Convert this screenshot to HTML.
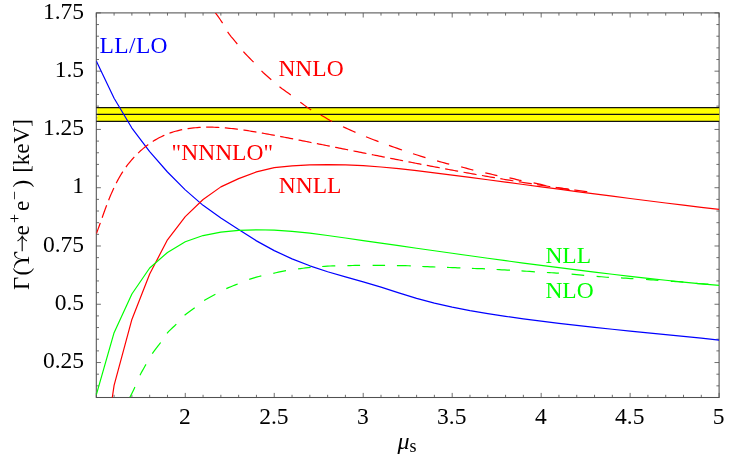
<!DOCTYPE html>
<html><head><meta charset="utf-8"><title>plot</title>
<style>html,body{margin:0;padding:0;background:#fff;width:737px;height:456px;overflow:hidden}
body{font-family:"Liberation Serif",serif}</style></head>
<body>
<svg width="737" height="456" viewBox="0 0 737 456" style="position:absolute;left:0;top:0;will-change:transform">
<rect width="737" height="456" fill="#fff"/>
<defs><clipPath id="c"><rect x="96.30" y="12.90" width="622.80" height="384.60"/></clipPath></defs>
<path d="M96.30 397.50 v-4.60 M96.30 12.90 v4.60 M114.09 397.50 v-2.70 M114.09 12.90 v2.70 M131.89 397.50 v-2.70 M131.89 12.90 v2.70 M149.68 397.50 v-2.70 M149.68 12.90 v2.70 M167.48 397.50 v-2.70 M167.48 12.90 v2.70 M185.27 397.50 v-4.60 M185.27 12.90 v4.60 M203.07 397.50 v-2.70 M203.07 12.90 v2.70 M220.86 397.50 v-2.70 M220.86 12.90 v2.70 M238.65 397.50 v-2.70 M238.65 12.90 v2.70 M256.45 397.50 v-2.70 M256.45 12.90 v2.70 M274.24 397.50 v-4.60 M274.24 12.90 v4.60 M292.04 397.50 v-2.70 M292.04 12.90 v2.70 M309.83 397.50 v-2.70 M309.83 12.90 v2.70 M327.63 397.50 v-2.70 M327.63 12.90 v2.70 M345.42 397.50 v-2.70 M345.42 12.90 v2.70 M363.21 397.50 v-4.60 M363.21 12.90 v4.60 M381.01 397.50 v-2.70 M381.01 12.90 v2.70 M398.80 397.50 v-2.70 M398.80 12.90 v2.70 M416.60 397.50 v-2.70 M416.60 12.90 v2.70 M434.39 397.50 v-2.70 M434.39 12.90 v2.70 M452.19 397.50 v-4.60 M452.19 12.90 v4.60 M469.98 397.50 v-2.70 M469.98 12.90 v2.70 M487.77 397.50 v-2.70 M487.77 12.90 v2.70 M505.57 397.50 v-2.70 M505.57 12.90 v2.70 M523.36 397.50 v-2.70 M523.36 12.90 v2.70 M541.16 397.50 v-4.60 M541.16 12.90 v4.60 M558.95 397.50 v-2.70 M558.95 12.90 v2.70 M576.75 397.50 v-2.70 M576.75 12.90 v2.70 M594.54 397.50 v-2.70 M594.54 12.90 v2.70 M612.33 397.50 v-2.70 M612.33 12.90 v2.70 M630.13 397.50 v-4.60 M630.13 12.90 v4.60 M647.92 397.50 v-2.70 M647.92 12.90 v2.70 M665.72 397.50 v-2.70 M665.72 12.90 v2.70 M683.51 397.50 v-2.70 M683.51 12.90 v2.70 M701.31 397.50 v-2.70 M701.31 12.90 v2.70 M719.10 397.50 v-4.60 M719.10 12.90 v4.60 M96.30 397.50 h2.70 M719.10 397.50 h-2.70 M96.30 385.85 h2.70 M719.10 385.85 h-2.70 M96.30 374.19 h2.70 M719.10 374.19 h-2.70 M96.30 362.54 h4.60 M719.10 362.54 h-4.60 M96.30 350.88 h2.70 M719.10 350.88 h-2.70 M96.30 339.23 h2.70 M719.10 339.23 h-2.70 M96.30 327.57 h2.70 M719.10 327.57 h-2.70 M96.30 315.92 h2.70 M719.10 315.92 h-2.70 M96.30 304.26 h4.60 M719.10 304.26 h-4.60 M96.30 292.61 h2.70 M719.10 292.61 h-2.70 M96.30 280.95 h2.70 M719.10 280.95 h-2.70 M96.30 269.30 h2.70 M719.10 269.30 h-2.70 M96.30 257.65 h2.70 M719.10 257.65 h-2.70 M96.30 245.99 h4.60 M719.10 245.99 h-4.60 M96.30 234.34 h2.70 M719.10 234.34 h-2.70 M96.30 222.68 h2.70 M719.10 222.68 h-2.70 M96.30 211.03 h2.70 M719.10 211.03 h-2.70 M96.30 199.37 h2.70 M719.10 199.37 h-2.70 M96.30 187.72 h4.60 M719.10 187.72 h-4.60 M96.30 176.06 h2.70 M719.10 176.06 h-2.70 M96.30 164.41 h2.70 M719.10 164.41 h-2.70 M96.30 152.75 h2.70 M719.10 152.75 h-2.70 M96.30 141.10 h2.70 M719.10 141.10 h-2.70 M96.30 129.45 h4.60 M719.10 129.45 h-4.60 M96.30 117.79 h2.70 M719.10 117.79 h-2.70 M96.30 106.14 h2.70 M719.10 106.14 h-2.70 M96.30 94.48 h2.70 M719.10 94.48 h-2.70 M96.30 82.83 h2.70 M719.10 82.83 h-2.70 M96.30 71.17 h4.60 M719.10 71.17 h-4.60 M96.30 59.52 h2.70 M719.10 59.52 h-2.70 M96.30 47.86 h2.70 M719.10 47.86 h-2.70 M96.30 36.21 h2.70 M719.10 36.21 h-2.70 M96.30 24.55 h2.70 M719.10 24.55 h-2.70 M96.30 12.90 h4.60 M719.10 12.90 h-4.60" stroke="#4a4a4a" stroke-width="0.8" fill="none"/>
<rect x="96.30" y="12.90" width="622.80" height="384.60" fill="none" stroke="#505050" stroke-width="1.05"/>
<rect x="97.30" y="107.55" width="622.00" height="13.85" fill="#ffff00"/>
<path d="M96.30 107.55 H719.20 M96.30 114.40 H719.20 M96.30 121.40 H719.20" stroke="#111" stroke-width="1.3" fill="none"/>
<g clip-path="url(#c)" fill="none" stroke-width="1.2" stroke-linejoin="round">
<path d="M96.30 61.00 L114.09 98.20 L131.89 128.04 L149.68 151.57 L167.48 171.99 L185.27 189.84 L203.07 205.36 L220.86 218.11 L238.65 229.60 L256.45 240.87 L274.24 250.62 L292.04 258.85 L309.83 265.81 L327.63 271.71 L345.42 276.86 L363.21 281.82 L381.01 287.19 L398.80 292.93 L416.60 298.38 L434.39 303.10 L452.19 307.14 L469.98 310.61 L487.77 313.65 L505.57 316.37 L523.36 318.88 L541.16 321.20 L558.95 323.38 L576.75 325.43 L594.54 327.37 L612.33 329.24 L630.13 331.05 L647.92 332.82 L665.72 334.59 L683.51 336.38 L701.31 338.20 L719.10 340.09" stroke="#0000ff"/>
<path d="M111.40 403.55 L114.09 385.40 L131.89 319.44 L149.68 273.94 L167.48 239.83 L185.27 216.63 L203.07 199.46 L220.86 186.88 L238.65 178.66 L256.45 171.87 L274.24 167.67 L292.04 165.84 L309.83 164.85 L327.63 164.55 L345.42 164.86 L363.21 165.71 L381.01 167.00 L398.80 168.67 L416.60 170.62 L434.39 172.79 L452.19 175.08 L469.98 177.42 L487.77 179.78 L505.57 182.14 L523.36 184.50 L541.16 186.86 L558.95 189.21 L576.75 191.56 L594.54 193.89 L612.33 196.20 L630.13 198.49 L647.92 200.75 L665.72 202.98 L683.51 205.18 L701.31 207.33 L719.10 209.45" stroke="#ff0000"/>
<path d="M96.30 394.80 L114.09 332.64 L131.89 293.98 L149.68 267.97 L167.48 252.46 L185.27 241.79 L203.07 235.54 L220.86 232.14 L238.65 230.36 L256.45 229.76 L274.24 230.17 L292.04 231.38 L309.83 233.21 L327.63 235.48 L345.42 237.98 L363.21 240.54 L381.01 243.11 L398.80 245.67 L416.60 248.22 L434.39 250.76 L452.19 253.27 L469.98 255.77 L487.77 258.23 L505.57 260.66 L523.36 263.05 L541.16 265.40 L558.95 267.70 L576.75 269.95 L594.54 272.14 L612.33 274.27 L630.13 276.33 L647.92 278.32 L665.72 280.23 L683.51 282.06 L701.31 283.81 L719.10 285.46" stroke="#00ff00"/>
<path d="M215.40 12.90 L216.92 14.91 L218.40 16.94 L219.84 19.00 L221.24 21.09 L222.60 23.20 M227.60 31.90 L229.39 34.41 L231.31 36.84 L233.31 39.23 L235.32 41.60 L237.30 44.00 M243.40 51.60 L245.37 53.77 L247.42 55.89 L249.49 57.98 L251.56 60.08 L253.60 62.20 M261.50 70.90 L263.39 72.72 L265.34 74.50 L267.32 76.24 L269.31 77.97 L271.30 79.70 M279.50 86.70 L281.72 88.41 L283.98 90.07 L286.26 91.71 L288.54 93.34 L290.80 95.00 M300.30 102.20 L302.45 103.79 L304.60 105.39 L306.76 106.96 L308.96 108.47 L311.20 109.90 M320.70 114.90 L322.99 116.20 L325.26 117.55 L327.52 118.91 L329.79 120.24 L332.10 121.50 M343.00 126.70 L345.49 127.86 L347.98 129.02 L350.48 130.16 L352.99 131.29 L355.50 132.40 M366.00 136.80 L368.49 137.79 L370.98 138.76 L373.49 139.72 L375.99 140.66 L378.50 141.60 M389.00 145.40 L391.60 146.33 L394.19 147.26 L396.79 148.18 L399.39 149.10 L402.00 150.00 M413.00 153.70 L415.49 154.50 L417.99 155.30 L420.49 156.08 L422.99 156.85 L425.50 157.60 M437.10 160.90 L439.52 161.58 L441.93 162.26 L444.35 162.93 L446.77 163.58 L449.20 164.20 M461.20 166.90 L463.63 167.52 L466.04 168.17 L468.46 168.83 L470.87 169.48 L473.30 170.10 M485.30 172.80 L487.72 173.37 L490.14 173.95 L492.55 174.52 L494.97 175.08 L497.40 175.60 M509.50 177.80 L511.91 178.34 L514.30 178.95 L516.70 179.57 L519.09 180.17 L521.50 180.70 M533.60 182.80 L536.01 183.31 L538.40 183.86 L540.80 184.43 L543.19 184.99 L545.60 185.50 M557.50 187.60 L559.90 188.01 L562.30 188.41 L564.70 188.81 L567.10 189.21 L569.50 189.60" stroke="#ff0000"/>
<path d="M96.44 233.46 L97.07 231.78 L97.70 230.09 L98.32 228.38 L98.94 226.68 L99.56 224.96 L100.18 223.24 L100.79 221.51 L101.41 219.77 L102.03 218.03 L102.65 216.29 L103.27 214.54 L103.90 212.79 L104.53 211.04 L105.17 209.29 L105.82 207.54 L106.47 205.79 L107.14 204.04 L107.81 202.30 L108.49 200.55 L109.18 198.82 L109.89 197.08 L110.61 195.35 L111.34 193.63 L112.09 191.91 L112.85 190.20 L113.63 188.50 L114.43 186.81 L115.25 185.12 L116.08 183.45 L116.94 181.79 L117.81 180.14 L118.71 178.50 L119.63 176.88 L120.58 175.27 L121.55 173.68 L122.54 172.10 L123.57 170.54 L124.61 168.99 L125.69 167.47 L126.79 165.96 L127.92 164.47 L129.07 163.00 L130.25 161.56 L131.46 160.13 L132.69 158.73 L133.94 157.35 L135.22 155.99 L136.52 154.66 L137.84 153.35 L139.19 152.07 L140.56 150.81 L141.95 149.58 L143.36 148.38 L144.79 147.21 L146.24 146.07 L147.72 144.96 L149.21 143.87 L150.72 142.82 L152.26 141.81 L153.81 140.82 L155.38 139.87 L156.96 138.95 L158.57 138.07 L160.19 137.23 L161.83 136.42 L163.48 135.64 L165.15 134.91 L166.84 134.21 L168.54 133.55 L170.25 132.93 L171.98 132.35 L173.73 131.80 L175.48 131.29 L177.25 130.81 L179.03 130.36 L180.82 129.95 L182.62 129.56 L184.43 129.21 L186.25 128.89 L188.08 128.60 L189.91 128.34 L191.76 128.11 L193.61 127.91 L195.47 127.73 L197.33 127.58 L199.20 127.45 L201.08 127.35 L202.96 127.27 L204.84 127.22 L206.73 127.18 L208.62 127.17 L210.51 127.18 L212.40 127.22 L214.29 127.27 L216.19 127.34 L218.08 127.42 L219.97 127.53 L221.87 127.65 L223.76 127.79 L225.65 127.94 L227.53 128.11 L229.41 128.29 L231.29 128.48 L233.16 128.69 L235.03 128.90 L236.89 129.13 L238.75 129.37 L240.61 129.62 L242.45 129.88 L244.30 130.14 L246.14 130.42 L247.97 130.70 L249.81 130.99 L251.64 131.29 L253.47 131.59 L255.29 131.90 L257.12 132.21 L258.94 132.53 L260.76 132.85 L262.59 133.17 L264.41 133.50 L266.23 133.83 L268.05 134.16 L269.87 134.50 L271.69 134.84 L273.51 135.17 L275.33 135.52 L277.16 135.86 L278.98 136.20 L280.80 136.55 L282.62 136.90 L284.44 137.24 L286.26 137.59 L288.09 137.95 L289.91 138.30 L291.73 138.65 L293.55 139.01 L295.38 139.36 L297.20 139.72 L299.02 140.08 L300.84 140.44 L302.66 140.80 L304.49 141.16 L306.31 141.52 L308.13 141.88 L309.95 142.24 L311.78 142.60 L313.60 142.97 L315.42 143.33 L317.24 143.69 L319.07 144.06 L320.89 144.42 L322.71 144.78 L324.53 145.15 L326.36 145.51 L328.18 145.87 L330.00 146.24 L331.83 146.60 L333.65 146.97 L335.47 147.33 L337.29 147.70 L339.12 148.06 L340.94 148.42 L342.76 148.79 L344.59 149.15 L346.41 149.52 L348.23 149.88 L350.06 150.25 L351.88 150.61 L353.70 150.98 L355.53 151.34 L357.35 151.71 L359.17 152.07 L361.00 152.43 L362.82 152.80 L364.64 153.16 L366.47 153.53 L368.29 153.89 L370.11 154.25 L371.94 154.62 L373.76 154.98 L375.59 155.34 L377.41 155.70 L379.24 156.07 L381.06 156.43 L382.88 156.79 L384.71 157.15 L386.53 157.51 L388.36 157.87 L390.18 158.23 L392.01 158.59 L393.83 158.95 L395.66 159.31 L397.48 159.67 L399.31 160.03 L401.13 160.38 L402.96 160.74 L404.79 161.10 L406.61 161.46 L408.44 161.81 L410.26 162.17 L412.09 162.52 L413.92 162.88 L415.74 163.23 L417.57 163.58 L419.39 163.93 L421.22 164.29 L423.05 164.64 L424.88 164.99 L426.70 165.34 L428.53 165.69 L430.36 166.04 L432.18 166.38 L434.01 166.73 L435.84 167.08 L437.67 167.42 L439.50 167.77 L441.32 168.11 L443.15 168.46 L444.98 168.80 L446.81 169.14 L448.64 169.48 L450.47 169.82 L452.30 170.16 L454.12 170.50 L455.95 170.83 L457.78 171.17 L459.61 171.51 L461.44 171.84 L463.27 172.18 L465.10 172.51 L466.93 172.84 L468.76 173.17 L470.59 173.50 L472.43 173.83 L474.26 174.16 L476.09 174.48 L477.92 174.81 L479.75 175.13 L481.58 175.46 L483.41 175.78 L485.25 176.10 L487.08 176.42 L488.91 176.74 L490.74 177.05 L492.58 177.37 L494.41 177.69 L496.24 178.00 L498.08 178.31 L499.91 178.62 L501.74 178.93 L503.58 179.24 L505.41 179.55 L507.25 179.86 L509.08 180.16 L510.91 180.46 L512.75 180.77 L514.58 181.07 L516.42 181.37 L518.26 181.66 L520.09 181.96 L521.93 182.26 L523.76 182.55 L525.60 182.84 L527.44 183.13 L529.27 183.42 L531.11 183.71 L532.95 184.00 L534.79 184.28 L536.62 184.56 L538.46 184.84 L540.30 185.12 L542.14 185.40 L543.98 185.68 L545.82 185.95 L547.66 186.23 L549.50 186.50 L551.34 186.77 L553.18 187.04 L555.02 187.31 L556.86 187.57 L558.70 187.83 L560.54 188.09 L562.38 188.35 L564.22 188.61 L566.06 188.87 L567.91 189.12 L569.75 189.38 L571.59 189.63 L573.43 189.87 L575.28 190.12 L577.12 190.37 L578.96 190.61 L580.81 190.85 L582.65 191.09 L584.50 191.33 L586.34 191.56 L588.19 191.80 L590.03 192.03" stroke="#ff0000" stroke-dasharray="13.2 5.48" stroke-dashoffset="1.9"/>
<path d="M129.90 397.20 L130.94 395.20 L131.96 393.19 L132.96 391.17 L133.94 389.14 L134.90 387.10 M140.00 375.30 L141.12 373.09 L142.30 370.90 L143.53 368.72 L144.76 366.56 L146.00 364.40 M152.30 353.60 L153.89 351.33 L155.57 349.11 L157.30 346.92 L159.03 344.73 L160.70 342.50 M167.00 333.40 L168.73 331.45 L170.59 329.59 L172.50 327.77 L174.43 325.95 L176.30 324.10 M184.60 315.30 L186.52 313.69 L188.53 312.16 L190.59 310.67 L192.66 309.20 L194.70 307.70 M204.10 300.60 L206.29 299.25 L208.54 297.97 L210.82 296.73 L213.11 295.52 L215.40 294.30 M226.30 288.60 L228.55 287.62 L230.82 286.69 L233.11 285.79 L235.41 284.90 L237.70 284.00 M249.20 279.40 L251.59 278.62 L254.00 277.88 L256.43 277.18 L258.86 276.52 L261.30 275.90 M273.30 273.30 L275.84 272.76 L278.37 272.21 L280.91 271.68 L283.45 271.17 L286.00 270.70 M298.10 268.90 L300.60 268.57 L303.09 268.25 L305.59 267.94 L308.10 267.65 L310.60 267.40 M322.20 266.50 L324.82 266.33 L327.44 266.17 L330.06 266.01 L332.68 265.89 L335.30 265.80 M347.40 265.60 L349.94 265.55 L352.48 265.50 L355.02 265.45 L357.56 265.41 L360.10 265.40 M372.60 265.40 L375.10 265.40 L377.60 265.40 L380.10 265.40 L382.60 265.40 L385.10 265.40 M396.90 265.60 L399.68 265.64 L402.46 265.67 L405.24 265.70 L408.02 265.74 L410.80 265.80 M422.30 266.50 L424.92 266.62 L427.54 266.72 L430.16 266.81 L432.78 266.91 L435.40 267.00 M447.00 267.40 L449.68 267.50 L452.36 267.59 L455.04 267.69 L457.72 267.79 L460.40 267.90 M471.90 268.40 L474.52 268.48 L477.14 268.56 L479.76 268.63 L482.38 268.71 L485.00 268.80 M496.60 269.50 L499.28 269.64 L501.96 269.78 L504.64 269.92 L507.32 270.05 L510.00 270.20 M521.50 270.90 L524.18 271.08 L526.86 271.26 L529.54 271.44 L532.22 271.63 L534.90 271.80 M546.90 272.50 L549.30 272.64 L551.70 272.77 L554.10 272.91 L556.50 273.05 L558.90 273.20 M571.60 274.20 L574.12 274.41 L576.64 274.64 L579.16 274.86 L581.68 275.08 L584.20 275.30 M596.60 276.30 L599.06 276.53 L601.52 276.77 L603.98 277.01 L606.44 277.23 L608.90 277.40 M621.00 277.90 L623.48 278.04 L625.96 278.20 L628.44 278.36 L630.92 278.54 L633.40 278.70 M646.00 279.50 L648.48 279.66 L650.96 279.81 L653.44 279.97 L655.92 280.13 L658.40 280.30 M670.80 281.30 L673.32 281.47 L675.84 281.61 L678.36 281.76 L680.88 281.92 L683.40 282.10 M695.80 283.40 L698.32 283.59 L700.83 283.77 L703.35 283.94 L705.88 284.08 L708.40 284.20" stroke="#00ff00"/>
</g>
<text x="84.00" y="18.60" font-family="Liberation Serif, serif" font-size="23.5" text-anchor="end" fill="#000" stroke="#000" stroke-width="0" >1.75</text>
<text x="84.00" y="76.87" font-family="Liberation Serif, serif" font-size="23.5" text-anchor="end" fill="#000" stroke="#000" stroke-width="0" >1.5</text>
<text x="84.00" y="135.15" font-family="Liberation Serif, serif" font-size="23.5" text-anchor="end" fill="#000" stroke="#000" stroke-width="0" >1.25</text>
<text x="84.00" y="193.42" font-family="Liberation Serif, serif" font-size="23.5" text-anchor="end" fill="#000" stroke="#000" stroke-width="0" >1</text>
<text x="84.00" y="251.69" font-family="Liberation Serif, serif" font-size="23.5" text-anchor="end" fill="#000" stroke="#000" stroke-width="0" >0.75</text>
<text x="84.00" y="309.96" font-family="Liberation Serif, serif" font-size="23.5" text-anchor="end" fill="#000" stroke="#000" stroke-width="0" >0.5</text>
<text x="84.00" y="368.24" font-family="Liberation Serif, serif" font-size="23.5" text-anchor="end" fill="#000" stroke="#000" stroke-width="0" >0.25</text>
<text x="184.87" y="424.20" font-family="Liberation Serif, serif" font-size="23.5" text-anchor="middle" fill="#000" stroke="#000" stroke-width="0" >2</text>
<text x="273.84" y="424.20" font-family="Liberation Serif, serif" font-size="23.5" text-anchor="middle" fill="#000" stroke="#000" stroke-width="0" >2.5</text>
<text x="362.81" y="424.20" font-family="Liberation Serif, serif" font-size="23.5" text-anchor="middle" fill="#000" stroke="#000" stroke-width="0" >3</text>
<text x="451.79" y="424.20" font-family="Liberation Serif, serif" font-size="23.5" text-anchor="middle" fill="#000" stroke="#000" stroke-width="0" >3.5</text>
<text x="540.76" y="424.20" font-family="Liberation Serif, serif" font-size="23.5" text-anchor="middle" fill="#000" stroke="#000" stroke-width="0" >4</text>
<text x="629.73" y="424.20" font-family="Liberation Serif, serif" font-size="23.5" text-anchor="middle" fill="#000" stroke="#000" stroke-width="0" >4.5</text>
<text x="718.70" y="424.20" font-family="Liberation Serif, serif" font-size="23.5" text-anchor="middle" fill="#000" stroke="#000" stroke-width="0" >5</text>
<text x="99.60" y="53.40" font-family="Liberation Serif, serif" font-size="23.5" text-anchor="start" fill="#0000ff" stroke="#0000ff" stroke-width="0" letter-spacing="0.35">LL/LO</text>
<text x="278.40" y="76.40" font-family="Liberation Serif, serif" font-size="23.5" text-anchor="start" fill="#ff0000" stroke="#ff0000" stroke-width="0" >NNLO</text>
<text x="171.60" y="160.40" font-family="Liberation Serif, serif" font-size="23.5" text-anchor="start" fill="#ff0000" stroke="#ff0000" stroke-width="0" >&quot;NNNLO&quot;</text>
<text x="278.80" y="193.20" font-family="Liberation Serif, serif" font-size="23.5" text-anchor="start" fill="#ff0000" stroke="#ff0000" stroke-width="0" >NNLL</text>
<text x="545.40" y="263.40" font-family="Liberation Serif, serif" font-size="23.5" text-anchor="start" fill="#00ff00" stroke="#00ff00" stroke-width="0" >NLL</text>
<text x="545.40" y="297.90" font-family="Liberation Serif, serif" font-size="23.5" text-anchor="start" fill="#00ff00" stroke="#00ff00" stroke-width="0" >NLO</text>
<text font-family="Liberation Serif, serif" fill="#000"><tspan x="397.4" y="449.2" font-size="24" font-style="italic">μ</tspan><tspan x="409.6" y="452.3" font-size="18">s</tspan></text>
<g transform="translate(29.4,289.6) rotate(-90)"><text font-family="Liberation Serif, serif" font-size="23" fill="#000"><tspan x="-0.3" y="0">Γ</tspan><tspan x="14.0">(</tspan><tspan x="21.0">ϒ</tspan><tspan x="54.0">e</tspan><tspan x="66.7" dy="-9.4" font-size="16">+</tspan><tspan x="78.5" dy="9.4">e</tspan><tspan x="89.6" dy="-9.4" font-size="16">−</tspan><tspan x="102.2" dy="9.4">)</tspan><tspan x="116.8">[keV]</tspan></text><path d="M38.3 -7.2 H52.6 M48.6 -11.9 Q50.2 -8.6 53.3 -7.2 Q50.2 -5.8 48.6 -2.5" fill="none" stroke="#000" stroke-width="1.1"/></g>
</svg>
</body></html>
